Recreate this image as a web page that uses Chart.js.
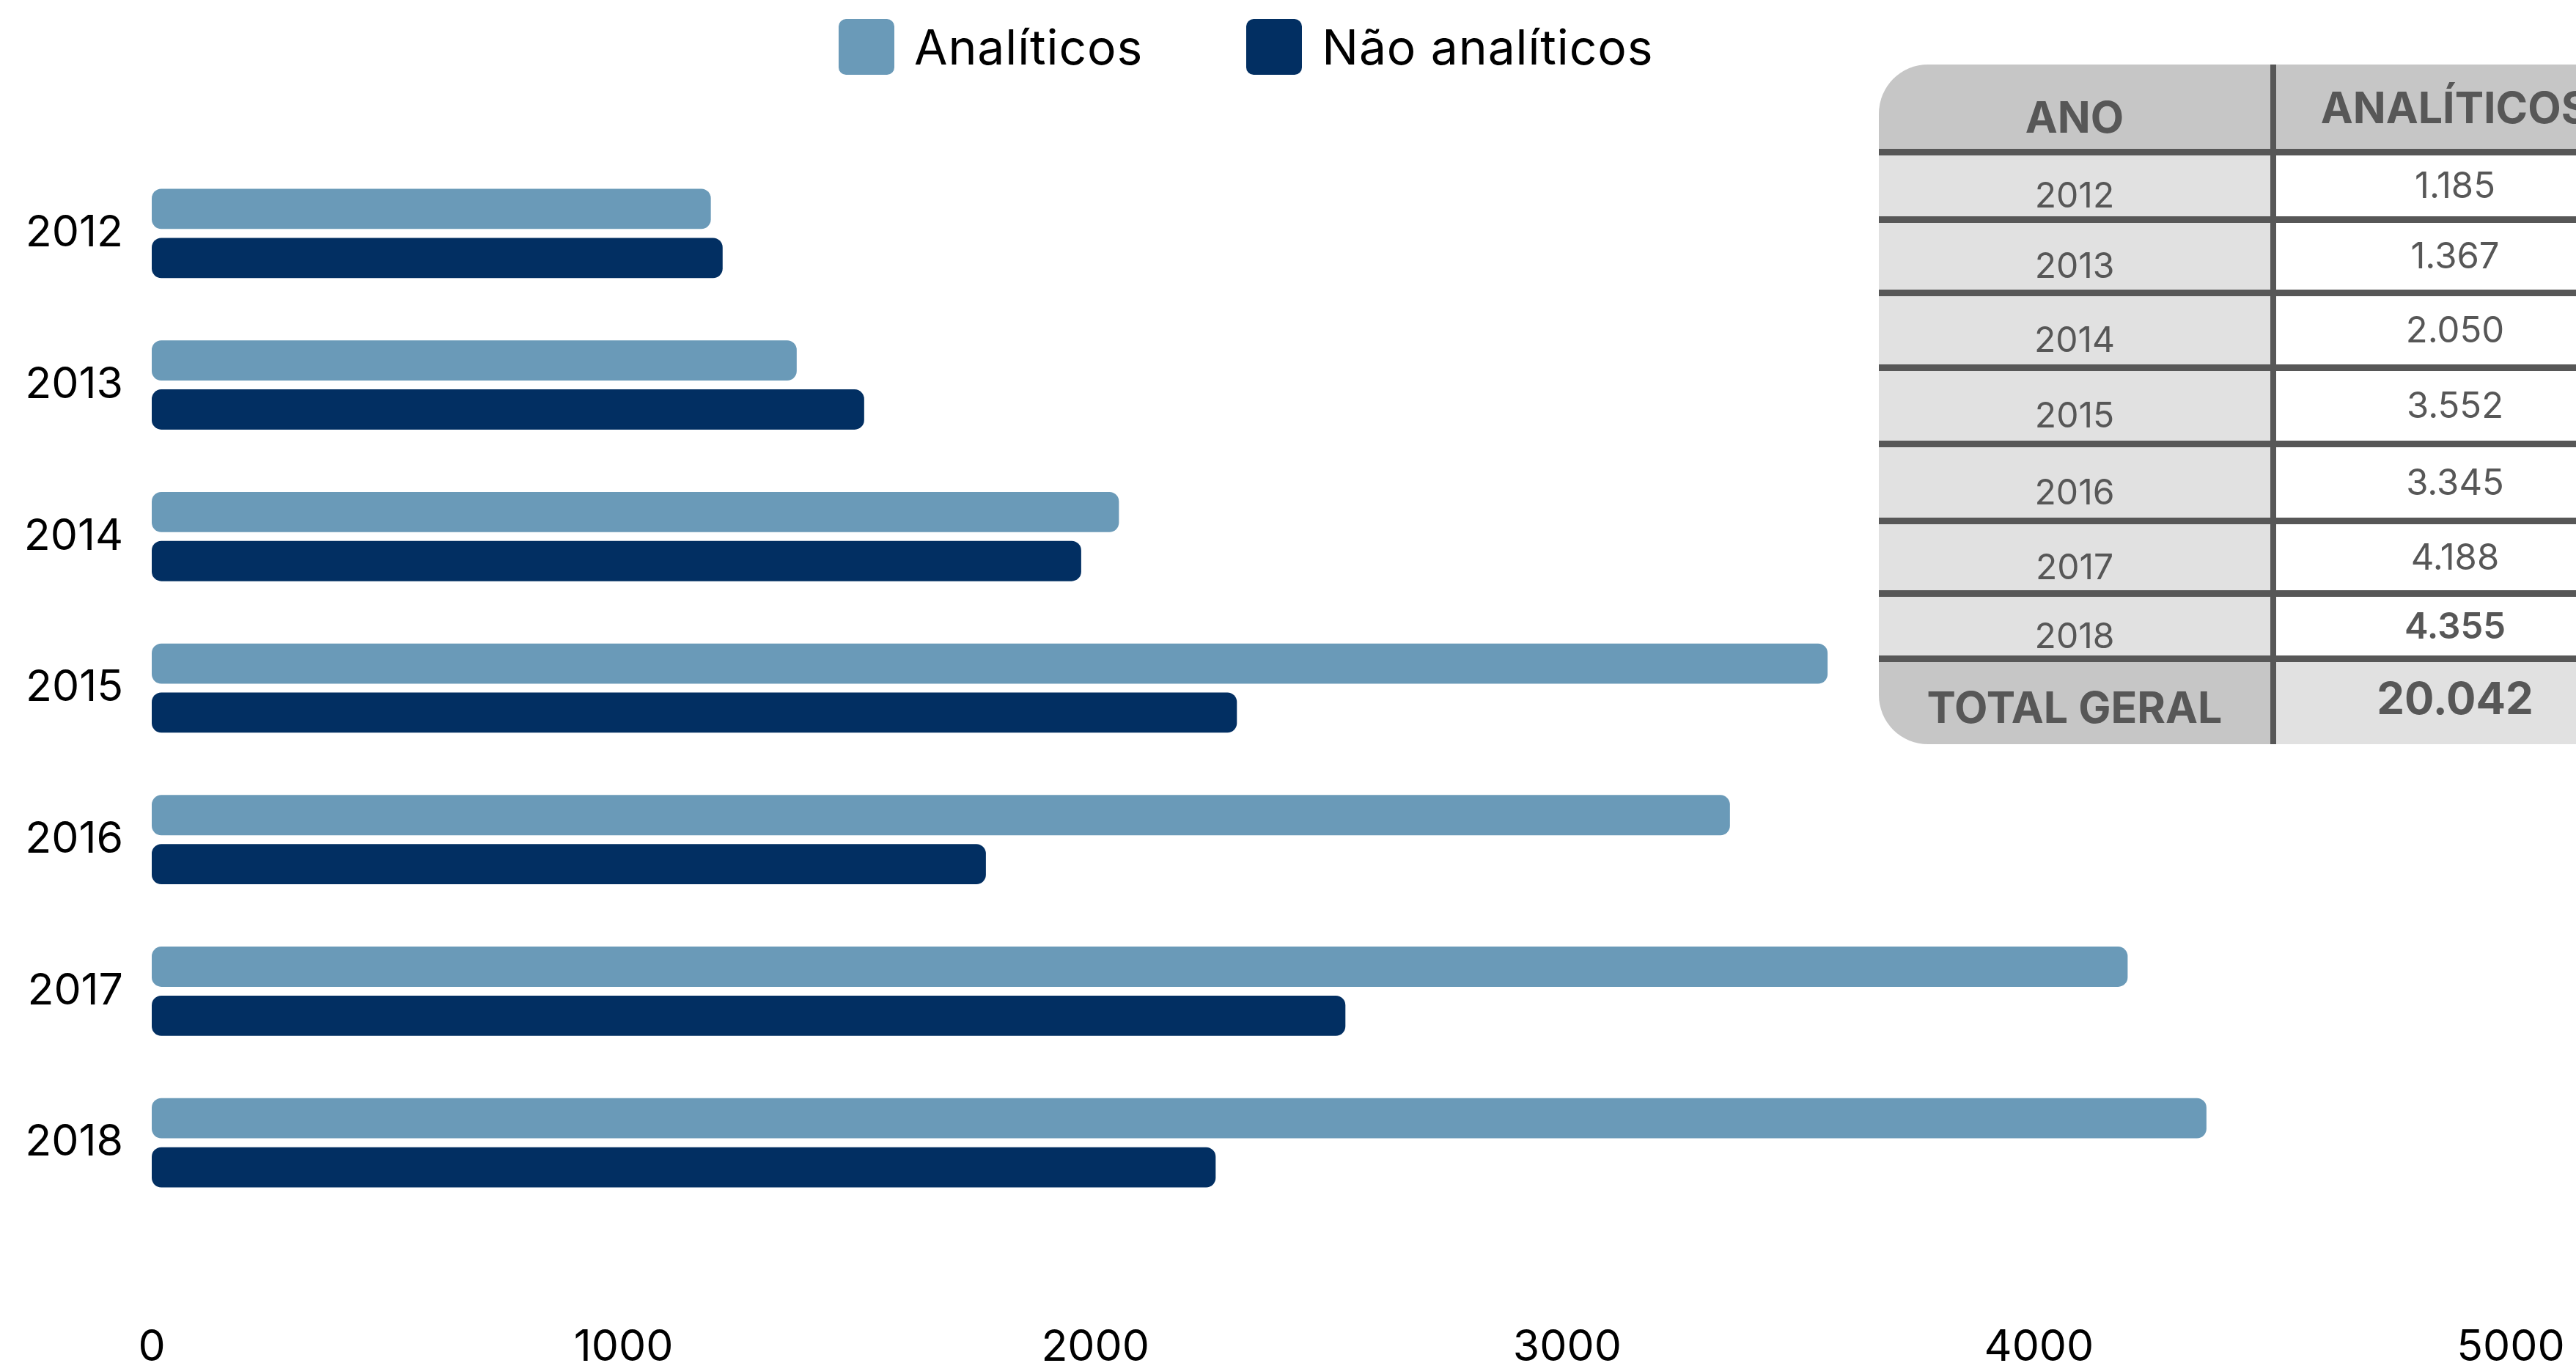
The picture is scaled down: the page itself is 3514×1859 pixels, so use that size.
<!DOCTYPE html>
<html lang="pt-BR">
<head>
<meta charset="utf-8">
<title>Analíticos x Não analíticos</title>
<script src="https://cdn.jsdelivr.net/npm/chart.js@4.4.1/dist/chart.umd.min.js"></script>
<style>
  html, body { margin: 0; padding: 0; background: #fff; }
  body { width: 3514px; height: 1859px; overflow: hidden; position: relative; font-family: Inter, sans-serif; }
  #chartBox { position: absolute; left: 0; top: 0; width: 3514px; height: 1859px; }
  #legend { position: absolute; left: 1144px; top: 26px; height: 76px; display: flex; align-items: center; }
  .leg-item { display: flex; align-items: center; margin-right: 141px; }
  .leg-box { width: 76px; height: 76px; border-radius: 10px; margin-right: 27px; }
  .leg-text { font-size: 66px; letter-spacing: 0.9px; color: #000; line-height: 76px; white-space: nowrap; }
  #tabela { position: absolute; left: 2563px; top: 88px; width: 1030px; border-radius: 67px 0 0 67px; overflow: hidden; color: #575757; }
  .linha { display: flex; border-bottom: 9px solid #575757; }
  .linha:last-child { border-bottom: none; }
  .c1 { width: 534px; border-right: 8px solid #575757; display: flex; align-items: center; justify-content: center; background: #e1e1e1; }
  .c2 { flex: 1; display: flex; align-items: center; justify-content: center; background: #fff; }
  .cab .c1, .cab .c2, .tot .c1 { background: #c6c6c6; }
  .tot .c2 { background: #e1e1e1; }
  .cab span { font-size: 59px; font-weight: 700; }
  .ano { font-size: 48px; font-weight: 400; }
  .val { font-size: 49px; font-weight: 400; }
  .tot span { font-size: 59px; font-weight: 700; }
</style>
</head>
<body>
<div id="chartBox"><canvas id="grafico"></canvas></div>
<div id="legend"></div>
<div id="tabela"></div>
<script>
// dados do grafico
const anos = ['2012', '2013', '2014', '2015', '2016', '2017', '2018'];
const analiticos = [1185, 1367, 2050, 3552, 3345, 4188, 4355];
const naoAnaliticos = [1210, 1510, 1970, 2300, 1768, 2530, 2255];
const ticksX = [0, 1000, 2000, 3000, 4000, 5000];
const series = ['Analíticos', 'Não analíticos'];
const cores = ['#6a9ab8', '#022f62'];

// alturas das linhas da tabela (cabecalho, anos, total)
const alturas = [115, 83, 91, 93, 95, 96, 90, 80, 112];

// formata 1185 -> 1.185
function milhar(n){
    return String(n).replace(/\B(?=(\d{3})+(?!\d))/g, '.');
}

// legenda em html
let legend = document.querySelector('#legend');
series.forEach((s, i) => {
    legend.innerHTML += `<div class="leg-item"><div class="leg-box" style="background:${cores[i]}"></div><span class="leg-text">${s}</span></div>`;
});

// tabela
let tabela = document.querySelector('#tabela');
let html = `<div class="linha cab" style="height:${alturas[0]}px">
    <div class="c1"><span style="transform:translateY(14px)">ANO</span></div>
    <div class="c2"><span style="transform:translateY(1px)">ANALÍTICOS</span></div></div>`;
anos.forEach((a, i) => {
    let peso = i == anos.length - 1 ? 'font-weight:600;' : '';
    html += `<div class="linha" style="height:${alturas[i + 1]}px">
    <div class="c1"><span class="ano" style="transform:translateY(12px)">${a}</span></div>
    <div class="c2"><span class="val" style="${peso}transform:translateY(-1px)">${milhar(analiticos[i])}</span></div></div>`;
});
let total = analiticos.reduce((a, b) => a + b, 0);
html += `<div class="linha tot" style="height:${alturas[alturas.length - 1]}px">
    <div class="c1"><span style="transform:translateY(5px)">TOTAL GERAL</span></div>
    <div class="c2"><span style="font-size:60px;transform:translateY(-7px)">${milhar(total)}</span></div></div>`;
tabela.innerHTML = html;

// grafico de barras horizontais
Chart.defaults.font.family = 'Inter';
new Chart(document.querySelector('#grafico'), {
    type: 'bar',
    data: {
        labels: anos,
        datasets: [
            { label: series[0], data: analiticos, backgroundColor: cores[0] },
            { label: series[1], data: naoAnaliticos, backgroundColor: cores[1] }
        ].map(d => Object.assign(d, {
            categoryPercentage: 0.647,
            barPercentage: 0.82,
            borderRadius: 13,
            borderSkipped: false
        }))
    },
    options: {
        indexAxis: 'y',
        responsive: true,
        maintainAspectRatio: false,
        animation: false,
        layout: { padding: { top: 215, right: 89, left: 0, bottom: 0 } },
        plugins: { legend: { display: false }, tooltip: { enabled: false } },
        scales: {
            x: {
                min: ticksX[0],
                max: ticksX[ticksX.length - 1],
                // tickLength so empurra os rotulos para baixo, as marcas nao aparecem
                grid: { display: false, drawTicks: true, tickLength: 147 },
                border: { display: false },
                ticks: {
                    stepSize: ticksX[1] - ticksX[0],
                    padding: 0,
                    color: '#000',
                    maxRotation: 0,
                    font: { size: 59, lineHeight: 1 },
                    callback: v => String(v)
                },
                afterFit: s => { s.height = 197; }
            },
            y: {
                grid: { display: false, drawTicks: false },
                border: { display: false },
                ticks: { padding: 39, color: '#000', font: { size: 59, lineHeight: 1 } },
                afterFit: s => { s.width = 207; }
            }
        }
    }
});
</script>
</body>
</html>
